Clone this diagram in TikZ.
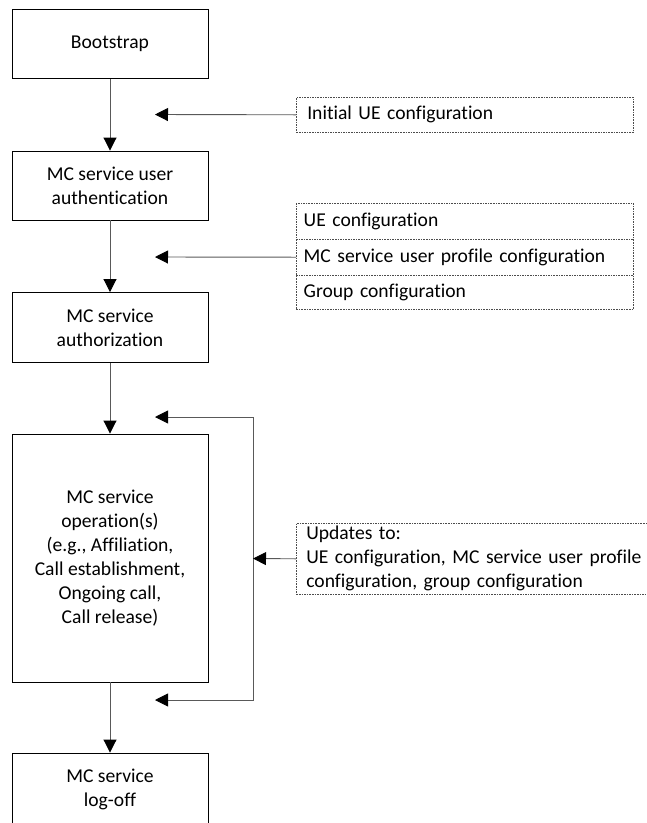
\documentclass[tikz,border=0pt]{standalone}
\usepackage{fontspec}
\setmainfont{Carlito}[Ligatures={NoCommon}]
\usetikzlibrary{arrows.meta}
\begin{document}
\begin{tikzpicture}[x=1pt,y=-1pt,
  every node/.style={font=\fontsize{19.6}{24}\selectfont},
  procbox/.style={draw=black,line width=0.9pt,minimum width=196pt,align=center,inner sep=0pt},
  dbox/.style={align=left,anchor=north west,inner ysep=0pt},
  dline/.style={draw=black!70,line width=0.6pt,dash pattern=on 1.6pt off 1pt},
  conn/.style={draw=black!65,line width=0.9pt,-{Triangle[length=13pt,width=13pt,black]}},
  plain/.style={draw=black!65,line width=0.9pt}]
\useasboundingbox (0,0) rectangle (647,823);
% process boxes
\node[procbox,minimum height=69pt] (boot) at (110,44) {Bootstrap};
\node[procbox,minimum height=69pt] (auth) at (110,185.5) {MC service user\\authentication};
\node[procbox,minimum height=70pt] (authz) at (110,327.5) {MC service\\authorization};
\node[procbox,minimum height=248pt] (op) at (110,558) {MC service\\operation(s)\\(e.g., Affiliation,\\Call establishment,\\Ongoing call,\\Call release)};
\node[procbox,minimum height=72pt] (logoff) at (110,789) {MC service\\log-off};
% dashed boxes
\node[dbox,dline,minimum height=35pt,text width=315pt,inner xsep=11pt] (init) at (296,97) {Initial UE configuration};
\node[dbox,minimum height=36pt,text width=322pt,inner xsep=7.5pt] (r1) at (296,203) {UE configuration};
\node[dbox,minimum height=36pt,text width=322pt,inner xsep=7.5pt] (r2) at (296,239) {MC service user profile configuration};
\node[dbox,minimum height=34pt,text width=322pt,inner xsep=7.5pt] (r3) at (296,275) {Group configuration};
\draw[dline] (r1.north west) rectangle (r3.south east);
\draw[dline] (r1.south west) -- (r1.south east);
\draw[dline] (r2.south west) -- (r2.south east);
\node[dbox,dline,minimum height=71pt,text width=350pt,inner xsep=10pt] (upd) at (296,523) {Updates to:\\UE configuration, MC service user profile\\configuration, group configuration};
% coordinates
\coordinate (c1) at (155,114.5);
\coordinate (c2) at (155,257);
\coordinate (lt) at (253,417);
\coordinate (lb) at (253,700);
\coordinate (t1) at (155,417);
\coordinate (t2) at (155,700);
\coordinate (c3) at (253,558.5);
% connectors
\draw[conn] (boot.south) -- (auth.north);
\draw[conn] (auth.south) -- (authz.north);
\draw[conn] (authz.south) -- (op.north);
\draw[conn] (op.south) -- (logoff.north);
\draw[conn] (init.west) -- (c1);
\draw[conn] (r2.west) -- (c2);
\draw[conn] (lt) -- (t1);
\draw[conn] (lt) -- (lb) -- (t2);
\draw[conn] (upd.west) -- (c3);
\end{tikzpicture}
\end{document}
